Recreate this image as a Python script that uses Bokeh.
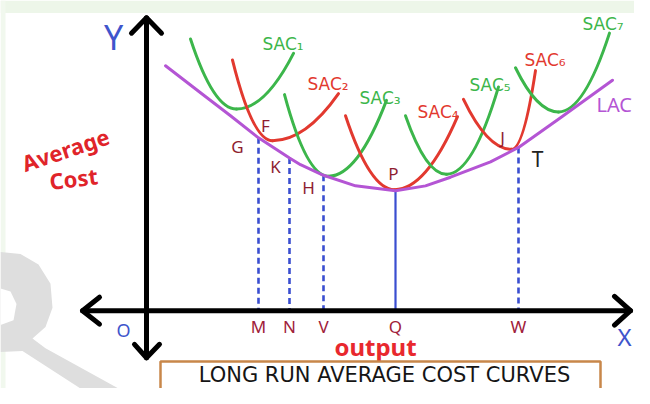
from bokeh.plotting import figure
from bokeh.models import Range1d
from bokeh.core.properties import value
from bokeh.embed import file_html
from bokeh.resources import INLINE

# ---- data (picture units: x to the right, y downward) ----
# short-run average cost curves: left tip, minimum, right tip
sac_names = ["SAC₁", "SAC₂", "SAC₃", "SAC₄", "SAC₅", "SAC₆", "SAC₇"]
sac_left_x = [190, 232, 284, 345, 405, 463, 515]
sac_left_y = [40, 62, 98, 120, 120, 103, 70]
sac_min_x = [236, 272, 328, 394, 446, 511, 558]
sac_min_y = [113, 146, 183, 197, 181, 155, 116]
sac_right_x = [293, 338, 386, 457, 498, 535, 609]
sac_right_y = [55, 97, 104, 121, 90, 73, 34]
sac_colors = ["#3cb64b", "#e2392f", "#3cb64b", "#e2392f", "#3cb64b", "#e2392f", "#3cb64b"]
sac_label_x = [262, 307, 359, 417, 469, 524, 582]
sac_label_y = [45, 87, 101, 116, 88, 62, 24]

# long-run average cost envelope
lac_x = [165, 200, 230, 258, 289, 300, 323, 355, 395, 425, 450, 490, 518, 560, 612]
lac_y = [68, 96, 120, 143, 164, 171, 182, 193, 198, 193, 184, 168, 153, 122, 83]

# output levels dropped to the x axis
out_labels = ["M", "N", "V", "Q", "W"]
out_x = [258, 289, 323, 395, 518]
out_top = [143, 164, 182, 198, 153]
out_dashed = [True, True, True, False, True]

# tangency point labels
pt_labels = ["G", "F", "K", "H", "P", "J"]
pt_x = [237, 265, 275, 308, 393, 502]
pt_y = [152, 130, 173, 195, 180, 143]

axis_origin = (146, 323)
axis_x_ends = (82, 630)
axis_y_ends = (18, 372)

title_text = "LONG RUN AVERAGE COST CURVES"

# ---- figure ----
p = figure(width=634, height=388, x_range=Range1d(0, 634), y_range=Range1d(404, 0),
           output_backend="svg", toolbar_location=None, min_border=0,
           x_axis_location=None, y_axis_location=None)
p.grid.visible = False
p.outline_line_color = None
p.background_fill_color = "white"
p.border_fill_color = "white"

# faint page frame + watermark
p.quad(left=[0], right=[650], top=[0], bottom=[13], fill_color="#edf6e9", line_color=None)
p.quad(left=[0], right=[5], top=[0], bottom=[404], fill_color="#f1f8ee", line_color=None)
p.patch(x=[0, 20, 38, 50, 52, 45, 32, 45, 118, 80, 22, 0],
        y=[262, 264, 275, 295, 320, 340, 352, 362, 404, 404, 365, 366],
        fill_color="#dedede", line_color=None)
p.patch(x=[0, 10, 16, 13, 0], y=[300, 303, 316, 333, 338], fill_color="white", line_color=None)

# drop lines
for xx, tt, dsh in zip(out_x, out_top, out_dashed):
    p.line(x=[xx, xx], y=[tt, axis_origin[1]], line_color="#3a4ed0",
           line_width=2.6 if dsh else 2.2, line_dash="6 4" if dsh else "solid")

# SAC curves as two parabolic arms each
for i in range(len(sac_names)):
    lx, ly = sac_left_x[i], sac_left_y[i]
    mx, my = sac_min_x[i], sac_min_y[i]
    rx, ry = sac_right_x[i], sac_right_y[i]
    p.quadratic(x0=[lx, mx], y0=[ly, my], x1=[mx, rx], y1=[my, ry],
                cx=[(lx + mx) / 2, (mx + rx) / 2], cy=[my, my],
                line_color=sac_colors[i], line_width=3, line_cap="round")

# LAC
p.line(x=lac_x, y=lac_y, line_color="#b455d4", line_width=3, line_cap="round", line_join="round")

# axes
ox, oy = axis_origin
p.segment(x0=[ox, axis_x_ends[0]], y0=[axis_y_ends[0], oy], x1=[ox, axis_x_ends[1]], y1=[axis_y_ends[1], oy],
          line_color="black", line_width=5, line_cap="round")
p.multi_line(xs=[[ox - 15, ox, ox + 15], [ox - 12, ox, ox + 13],
                 [axis_x_ends[0] + 17, axis_x_ends[0], axis_x_ends[0] + 17],
                 [axis_x_ends[1] - 16, axis_x_ends[1], axis_x_ends[1] - 16]],
             ys=[[axis_y_ends[0] + 16, axis_y_ends[0], axis_y_ends[0] + 16],
                 [axis_y_ends[1] - 14, axis_y_ends[1], axis_y_ends[1] - 14],
                 [oy - 14, oy, oy + 14], [oy - 15, oy, oy + 15]],
             line_color="black", line_width=5, line_cap="round", line_join="round")

font = value("Noto Sans")

# SAC / LAC labels
p.text(x=sac_label_x, y=sac_label_y, text=sac_names, text_color=sac_colors,
       text_font=value("DejaVu Sans"), text_font_size="17px", text_align="left", text_baseline="middle")
p.text(x=[596], y=[108], text=["LAC"], text_color="#b455d4", text_font=font,
       text_font_size="20px", text_align="left", text_baseline="middle")

# point labels
p.text(x=pt_x, y=pt_y, text=pt_labels, text_color="#8e1d30", text_font=font,
       text_font_size="17px", text_align="center", text_baseline="middle")
p.text(x=[537], y=[165], text=["T"], text_color="#222222", text_font=font,
       text_font_size="21px", text_align="center", text_baseline="middle")

# output labels on x axis
p.text(x=out_x, y=[339] * len(out_x), text=out_labels, text_color="#a0203a", text_font=font,
       text_font_size="17px", text_align="center", text_baseline="middle")

# axis names
p.text(x=[113], y=[38], text=["Y"], text_color="#3f55cc", text_font=font,
       text_font_size="34px", text_align="center", text_baseline="middle")
p.text(x=[123], y=[343], text=["O"], text_color="#3f55cc", text_font=font,
       text_font_size="18px", text_align="center", text_baseline="middle")
p.text(x=[624], y=[350], text=["X"], text_color="#3f55cc", text_font=font,
       text_font_size="24px", text_align="center", text_baseline="middle")
p.text(x=[65], y=[155], text=["Average"], text_color="#e0242a", text_font=font, angle=0.32,
       text_font_size="22px", text_font_style="bold", text_align="center", text_baseline="middle")
p.text(x=[73], y=[185], text=["Cost"], text_color="#e0242a", text_font=font, angle=0.12,
       text_font_size="22px", text_font_style="bold", text_align="center", text_baseline="middle")
p.text(x=[375], y=[360], text=["output"], text_color="#e8282e", text_font=font,
       text_font_size="24px", text_font_style="bold", text_align="center", text_baseline="middle")

# title box
p.quad(left=[160], right=[600], top=[376], bottom=[412], fill_color="white",
       line_color="#c8874a", line_width=2.5)
p.text(x=[384], y=[390], text=[title_text], text_color="#151515", text_font=value("DejaVu Sans"),
       text_font_size="21px", text_align="center", text_baseline="middle")

open("out.html", "w").write(file_html(p, INLINE))
